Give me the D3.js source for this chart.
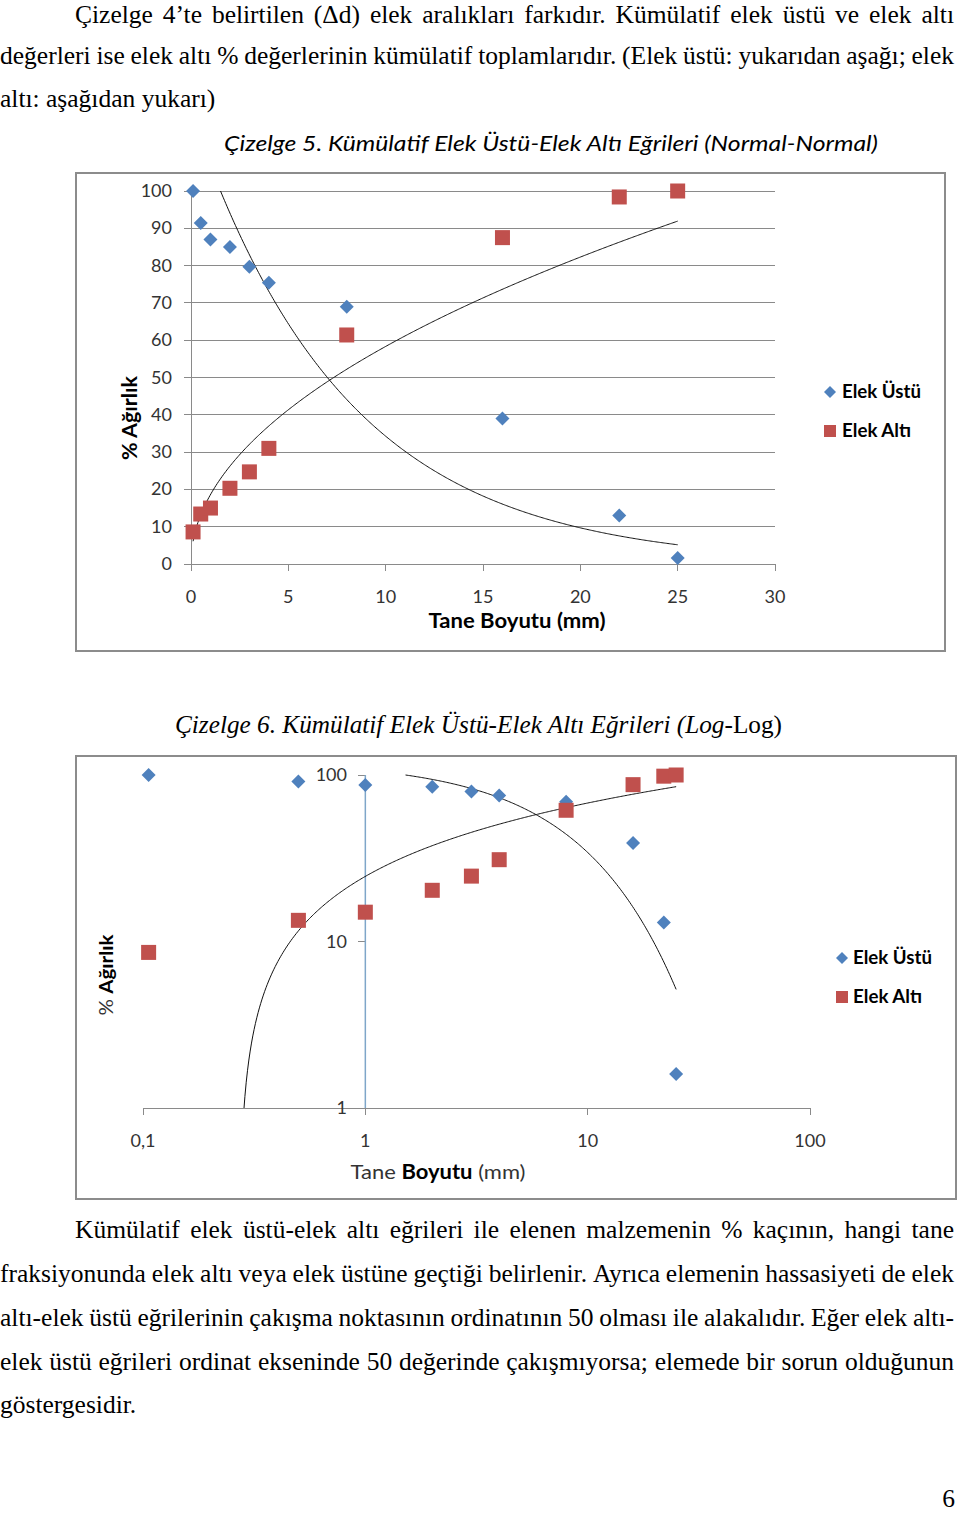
<!DOCTYPE html>
<html><head><meta charset="utf-8">
<script src="https://cdn.jsdelivr.net/npm/d3@7/dist/d3.min.js"></script>
<style>body{margin:0;background:#fff}svg{display:block}</style>
</head><body>
<svg id="page" width="960" height="1515"></svg>
<script>
// ---------- data ----------
const sizes    = [0.106, 0.5, 1, 2, 3, 4, 8, 16, 22, 25];          // Tane boyutu (mm)
const elekUstu = [100, 91.4, 87, 85, 79.7, 75.4, 69, 39, 13, 1.6]; // kümülatif elek üstü %
const elekAlti = [8.6, 13.4, 15, 20.3, 24.7, 31, 61.4, 87.5, 98.4, 100]; // kümülatif elek altı %
const seriesNames = ["Elek Üstü", "Elek Altı"];
const xTicks1 = [0, 5, 10, 15, 20, 25, 30];
const yTicks1 = [0, 10, 20, 30, 40, 50, 60, 70, 80, 90, 100];
const xTicks2 = [0.1, 1, 10, 100];
const xTickLabels2 = ["0,1", "1", "10", "100"];
const yTicks2 = [1, 10, 100];
const yTickLabels2 = ["1", "10", "100"];
const caption1 = "Çizelge 5. Kümülatif Elek Üstü-Elek Altı Eğrileri (Normal-Normal)";
const caption2a = "Çizelge 6. Kümülatif Elek Üstü-Elek Altı Eğrileri (Log";
const caption2b = "-Log)";
const xTitle = ["Tane ", "Boyutu", " (mm)"];
const yTitle = ["% ", "Ağırlık"];
const topLines = [
  "Çizelge 4’te belirtilen (Δd) elek aralıkları farkıdır. Kümülatif elek üstü ve elek altı",
  "değerleri ise elek altı % değerlerinin kümülatif toplamlarıdır. (Elek üstü: yukarıdan aşağı; elek",
  "altı: aşağıdan yukarı)"
];
const bottomLines = [
  "Kümülatif elek üstü-elek altı eğrileri ile elenen malzemenin % kaçının, hangi tane",
  "fraksiyonunda elek altı veya elek üstüne geçtiği belirlenir. Ayrıca elemenin hassasiyeti de elek",
  "altı-elek üstü eğrilerinin çakışma noktasının ordinatının 50 olması ile alakalıdır. Eğer elek altı-",
  "elek üstü eğrileri ordinat ekseninde 50 değerinde çakışmıyorsa; elemede bir sorun olduğunun",
  "göstergesidir."
];
const pageNo = "6";

// ---------- style ----------
const BLUE = "#4F81BD", RED = "#C0504D", GRID = "#8a8a8a", TXT = "#333";
const SANS = "Lato, 'Open Sans', sans-serif";
const SERIF = "'Liberation Serif', 'Times New Roman', serif";

const svg = d3.select("#page");
svg.append("rect").attr("width", 960).attr("height", 1515).attr("fill", "#fff");

// ---------- regression helpers (Excel-style trendlines) ----------
function linreg(xs, ys) {
  const mx = d3.mean(xs), my = d3.mean(ys);
  let sxy = 0, sxx = 0;
  xs.forEach((x, i) => { sxy += (x - mx) * (ys[i] - my); sxx += (x - mx) * (x - mx); });
  const m = sxy / sxx; return { m, c: my - m * mx };
}
function expFit(xs, ys) { const r = linreg(xs, ys.map(Math.log)); const a = Math.exp(r.c), b = r.m; return x => a * Math.exp(b * x); }
function powFit(xs, ys) { const r = linreg(xs.map(Math.log), ys.map(Math.log)); const a = Math.exp(r.c), b = r.m; return x => a * Math.pow(x, b); }
function logFit(xs, ys) { const r = linreg(xs.map(Math.log), ys); return x => r.m * Math.log(x) + r.c; }

function curvePts(f, x0, x1, ymin, ymax, logx) {
  const n = 400, pts = [];
  const xAt = t => logx ? Math.exp(Math.log(x0) + (Math.log(x1) - Math.log(x0)) * t) : x0 + (x1 - x0) * t;
  const inside = y => y >= ymin && y <= ymax && isFinite(y);
  let prevT = null;
  for (let i = 0; i <= n; i++) {
    const t = i / n, x = xAt(t), y = f(x);
    const ok = inside(y);
    if (prevT !== null) {
      const py = f(xAt(prevT));
      if (inside(py) !== ok) {
        let lo = prevT, hi = t;
        for (let k = 0; k < 40; k++) {
          const mid = (lo + hi) / 2;
          if (inside(f(xAt(mid))) === inside(py)) lo = mid; else hi = mid;
        }
        const bx = xAt((lo + hi) / 2);
        pts.push([bx, Math.min(ymax, Math.max(ymin, f(bx)))]);
      }
    }
    if (ok) pts.push([x, y]);
    prevT = t;
  }
  return pts;
}

function diamond(g, cx, cy, r, fill) {
  g.append("path").attr("d", `M${cx},${cy - r}L${cx + r},${cy}L${cx},${cy + r}L${cx - r},${cy}Z`).attr("fill", fill);
}
function square(g, cx, cy, s, fill) {
  g.append("rect").attr("x", cx - s / 2).attr("y", cy - s / 2).attr("width", s).attr("height", s).attr("fill", fill);
}

// ---------- paragraph text (justified by placing each word) ----------
const FS = 25.5;
function measure(str) {
  const t = svg.append("text").style("font-family", SERIF).style("font-size", FS + "px").text(str);
  const w = t.node().getComputedTextLength(); t.remove(); return w;
}
function line(str, x, y, width, justify) {
  const t = svg.append("text").attr("y", y)
    .style("font-family", SERIF).style("font-size", FS + "px").attr("fill", "#000");
  const words = str.split(" ");
  const ws = words.map(measure);
  const total = d3.sum(ws);
  const spaceW = measure("a a") - measure("aa");
  let gap = spaceW;
  if (justify && words.length > 1) gap = (width - total) / (words.length - 1);
  let cx = x;
  words.forEach((w, i) => {
    t.append("tspan").attr("x", cx).text(w + (i < words.length - 1 ? " " : ""));
    cx += ws[i] + gap;
  });
}
line(topLines[0], 75, 23, 879, true);
line(topLines[1], 0, 64, 954, true);
line(topLines[2], 0, 107, 212, false);

line(bottomLines[0], 75, 1238, 879, true);
line(bottomLines[1], 0, 1282, 954, true);
line(bottomLines[2], 0, 1326, 954, true);
line(bottomLines[3], 0, 1370, 954, true);
line(bottomLines[4], 0, 1413, 135, false);
svg.append("text").attr("x", 955).attr("y", 1507).attr("text-anchor", "end")
  .style("font-family", SERIF).style("font-size", FS + "px").text(pageNo);

// ================= Chart 1 (Normal-Normal) =================
svg.append("text").attr("x", 224).attr("y", 151)
  .style("font-family", SANS).style("font-style", "italic").style("font-size", "22px")
  .attr("textLength", 654).attr("lengthAdjust", "spacingAndGlyphs").text(caption1);

svg.append("rect").attr("x", 76).attr("y", 173).attr("width", 869).attr("height", 478)
  .attr("fill", "#fff").attr("stroke", "#8c8c8c").attr("stroke-width", 2);

const g1 = svg.append("g");
const x1 = d3.scaleLinear().domain([0, 30]).range([191, 775]);
const y1 = d3.scaleLinear().domain([0, 100]).range([564, 191]);

g1.selectAll("line.grid").data(yTicks1).join("line")
  .attr("x1", 184).attr("x2", 775).attr("y1", d => y1(d)).attr("y2", d => y1(d))
  .attr("stroke", GRID).attr("stroke-width", 1).attr("shape-rendering", "crispEdges");
g1.append("line").attr("x1", x1(0)).attr("x2", x1(0)).attr("y1", y1(100)).attr("y2", y1(0))
  .attr("stroke", GRID).attr("shape-rendering", "crispEdges");
g1.selectAll("line.xt").data(xTicks1).join("line")
  .attr("x1", d => x1(d)).attr("x2", d => x1(d)).attr("y1", y1(0)).attr("y2", y1(0) + 7)
  .attr("stroke", GRID).attr("shape-rendering", "crispEdges");
g1.selectAll("text.yl").data(yTicks1).join("text")
  .attr("x", 172).attr("y", d => y1(d) + 6).attr("text-anchor", "end")
  .style("font-family", SANS).style("font-size", "18px").attr("fill", TXT).text(d => d);
g1.selectAll("text.xl").data(xTicks1).join("text")
  .attr("x", d => x1(d)).attr("y", 603).attr("text-anchor", "middle")
  .style("font-family", SANS).style("font-size", "18px").attr("fill", TXT).text(d => d);
g1.append("text").attr("x", 517).attr("y", 628).attr("text-anchor", "middle")
  .style("font-family", SANS).style("font-size", "20px").style("font-weight", "bold").attr("fill", "#000")
  .attr("textLength", 177).attr("lengthAdjust", "spacingAndGlyphs").text(xTitle.join(""));
g1.append("text").attr("transform", "translate(137,418) rotate(-90)").attr("text-anchor", "middle")
  .style("font-family", SANS).style("font-size", "20px").style("font-weight", "bold").attr("fill", "#000")
  .attr("textLength", 84).attr("lengthAdjust", "spacingAndGlyphs").text(yTitle.join(""));

const tExp = expFit(sizes, elekUstu);
const tPow = powFit(sizes, elekAlti);
const xmin = d3.min(sizes), xmax = d3.max(sizes);
const lineGen1 = d3.line().x(d => x1(d[0])).y(d => y1(d[1]));
g1.append("path").attr("d", lineGen1(curvePts(tExp, xmin, xmax, 0, 100, false)))
  .attr("fill", "none").attr("stroke", "#111").attr("stroke-width", 1);
g1.append("path").attr("d", lineGen1(curvePts(tPow, xmin, xmax, 0, 100, false)))
  .attr("fill", "none").attr("stroke", "#111").attr("stroke-width", 1);

sizes.forEach((s, i) => square(g1, x1(s), y1(elekAlti[i]), 15, RED));
sizes.forEach((s, i) => diamond(g1, x1(s), y1(elekUstu[i]), 7, BLUE));

diamond(g1, 830, 392, 6, BLUE);
square(g1, 830, 431, 12, RED);
g1.append("text").attr("x", 842).attr("y", 398).style("font-family", SANS).style("font-size", "18px")
  .style("font-weight", "bold").attr("textLength", 79).attr("lengthAdjust", "spacingAndGlyphs").text(seriesNames[0]);
g1.append("text").attr("x", 842).attr("y", 437).style("font-family", SANS).style("font-size", "18px")
  .style("font-weight", "bold").attr("textLength", 69).attr("lengthAdjust", "spacingAndGlyphs").text(seriesNames[1]);

// ================= Chart 2 (Log-Log) =================
const cap2 = svg.append("text").attr("x", 175).attr("y", 733)
  .style("font-family", SERIF).style("font-size", "25px");
cap2.append("tspan").style("font-style", "italic").text(caption2a);
cap2.append("tspan").text(caption2b);
cap2.attr("textLength", 607).attr("lengthAdjust", "spacingAndGlyphs");

svg.append("rect").attr("x", 76).attr("y", 756).attr("width", 880).attr("height", 443)
  .attr("fill", "#fff").attr("stroke", "#8c8c8c").attr("stroke-width", 2);

const g2 = svg.append("g");
const x2 = d3.scaleLog().domain([0.1, 100]).range([143, 810]);
const y2 = d3.scaleLog().domain([1, 100]).range([1108, 775]);

g2.append("line").attr("x1", x2(0.1)).attr("x2", x2(100)).attr("y1", y2(1)).attr("y2", y2(1))
  .attr("stroke", GRID).attr("shape-rendering", "crispEdges");
g2.selectAll("line.xt").data(xTicks2).join("line")
  .attr("x1", d => x2(d)).attr("x2", d => x2(d)).attr("y1", y2(1)).attr("y2", y2(1) + 7)
  .attr("stroke", GRID).attr("shape-rendering", "crispEdges");
g2.selectAll("text.xl").data(xTicks2).join("text")
  .attr("x", d => x2(d)).attr("y", 1147).attr("text-anchor", "middle")
  .style("font-family", SANS).style("font-size", "18px").attr("fill", TXT).text((d, i) => xTickLabels2[i]);
g2.selectAll("line.yt").data(yTicks2).join("line")
  .attr("x1", x2(1) - 7).attr("x2", x2(1)).attr("y1", d => y2(d)).attr("y2", d => y2(d))
  .attr("stroke", GRID).attr("shape-rendering", "crispEdges");
g2.append("line").attr("x1", x2(1)).attr("x2", x2(1)).attr("y1", y2(100)).attr("y2", y2(1))
  .attr("stroke", "#7fa6c9").attr("stroke-width", 1.5);
g2.selectAll("text.yl").data(yTicks2).join("text")
  .attr("x", 347).attr("y", d => y2(d) + 6).attr("text-anchor", "end")
  .style("font-family", SANS).style("font-size", "18px").attr("fill", TXT).text((d, i) => yTickLabels2[i]);
const xt2 = g2.append("text").attr("x", 438).attr("y", 1179).attr("text-anchor", "middle")
  .style("font-family", SANS).style("font-size", "20px").attr("fill", TXT);
xt2.append("tspan").text(xTitle[0]);
xt2.append("tspan").style("font-weight", "bold").attr("fill", "#000").text(xTitle[1]);
xt2.append("tspan").text(xTitle[2]);
xt2.attr("textLength", 175).attr("lengthAdjust", "spacingAndGlyphs");
const yt2 = g2.append("text").attr("transform", "translate(113,975) rotate(-90)").attr("text-anchor", "middle")
  .style("font-family", SANS).style("font-size", "19px").attr("fill", TXT);
yt2.append("tspan").text(yTitle[0]);
yt2.append("tspan").style("font-weight", "bold").attr("fill", "#000").text(yTitle[1]);
yt2.attr("textLength", 81).attr("lengthAdjust", "spacingAndGlyphs");

const tLog = logFit(sizes, elekAlti);
const lineGen2 = d3.line().x(d => x2(d[0])).y(d => y2(d[1]));
g2.append("path").attr("d", lineGen2(curvePts(tExp, xmin, xmax, 1, 100, true)))
  .attr("fill", "none").attr("stroke", "#111").attr("stroke-width", 1);
g2.append("path").attr("d", lineGen2(curvePts(tLog, xmin, xmax, 1, 100, true)))
  .attr("fill", "none").attr("stroke", "#111").attr("stroke-width", 1);

sizes.forEach((s, i) => diamond(g2, x2(s), y2(elekUstu[i]), 7, BLUE));
sizes.forEach((s, i) => square(g2, x2(s), y2(elekAlti[i]), 15, RED));

diamond(g2, 842, 958, 6, BLUE);
square(g2, 842, 997, 12, RED);
g2.append("text").attr("x", 853).attr("y", 964).style("font-family", SANS).style("font-size", "18px")
  .style("font-weight", "bold").attr("textLength", 79).attr("lengthAdjust", "spacingAndGlyphs").text(seriesNames[0]);
g2.append("text").attr("x", 853).attr("y", 1003).style("font-family", SANS).style("font-size", "18px")
  .style("font-weight", "bold").attr("textLength", 69).attr("lengthAdjust", "spacingAndGlyphs").text(seriesNames[1]);
</script>
</body></html>
